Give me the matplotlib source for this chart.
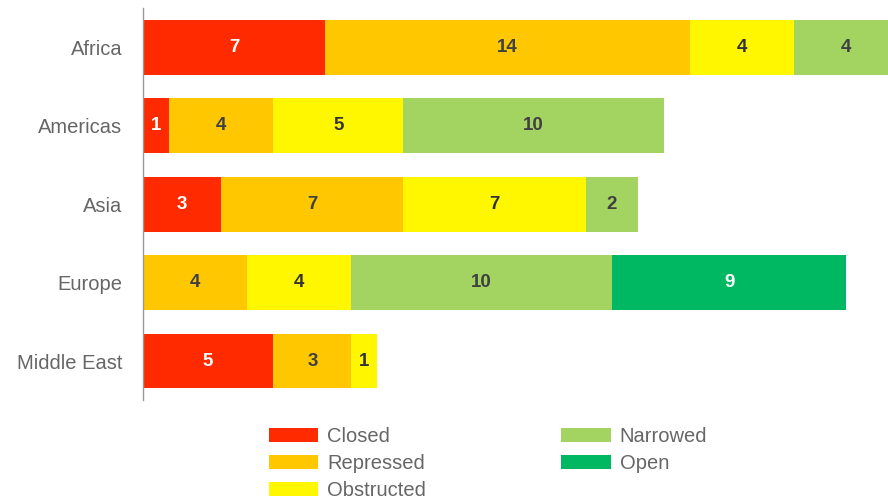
import matplotlib as mpl
import matplotlib.pyplot as plt
import numpy as np

# data
regions = ['Africa', 'Americas', 'Asia', 'Europe', 'Middle East']
statuses = ['Closed', 'Repressed', 'Obstructed', 'Narrowed', 'Open']
closed = [7, 1, 3, 0, 5]
repressed = [14, 4, 7, 4, 3]
obstructed = [4, 5, 7, 4, 1]
narrowed = [4, 10, 2, 10, 0]
open_ = [0, 0, 0, 9, 0]

series = [closed, repressed, obstructed, narrowed, open_]
colors = ['#FF2A00', '#FFC700', '#FFF700', '#A3D462', '#00B862']
txt_colors = ['white', '#404040', '#333333', '#404040', 'white']

mpl.rcParams['font.family'] = ['Liberation Sans', 'DejaVu Sans']

fig = plt.figure(figsize=(8.88, 5), dpi=100)
fig.patch.set_facecolor('white')
ax = fig.add_axes([143 / 888, 1 - 400.2 / 500, 1 - 143 / 888, (400.2 - 8.3) / 500])

y = np.arange(len(regions))
left = np.zeros(len(regions))
handles = []
for vals, col, tcol, name in zip(series, colors, txt_colors, statuses):
    vals = np.array(vals, dtype=float)
    bars = ax.barh(y, vals, left=left, height=0.70, color=col, label=name, linewidth=0)
    handles.append(bars)
    for yi, (v, l) in enumerate(zip(vals, left)):
        if v > 0:
            ax.text(l + v / 2, yi, '%d' % v, ha='center', va='center',
                    color=tcol, fontsize=13.5, fontweight='bold')
    left += vals

ax.set_ylim(4.5, -0.5)
ax.set_xlim(0, 28.6)
ax.set_yticks(y)
ax.set_yticklabels(regions, fontsize=14.5, color='#666666')
ax.set_xticks([])
ax.tick_params(axis='y', length=0, pad=15)

for s in ['top', 'right', 'bottom']:
    ax.spines[s].set_visible(False)
ax.spines['left'].set_color('#999999')
ax.spines['left'].set_linewidth(1)

leg = fig.legend(handles=handles, labels=statuses, ncol=2, loc='upper left',
                 bbox_to_anchor=(269 / 888, 1 - 427 / 500), frameon=False,
                 fontsize=14.5, handlelength=2.45, handleheight=0.75,
                 handletextpad=0.45, labelspacing=0.4, columnspacing=6.7,
                 borderpad=0, borderaxespad=0)
for t in leg.get_texts():
    t.set_color('#666666')

fig.savefig('out.png', dpi=100)
